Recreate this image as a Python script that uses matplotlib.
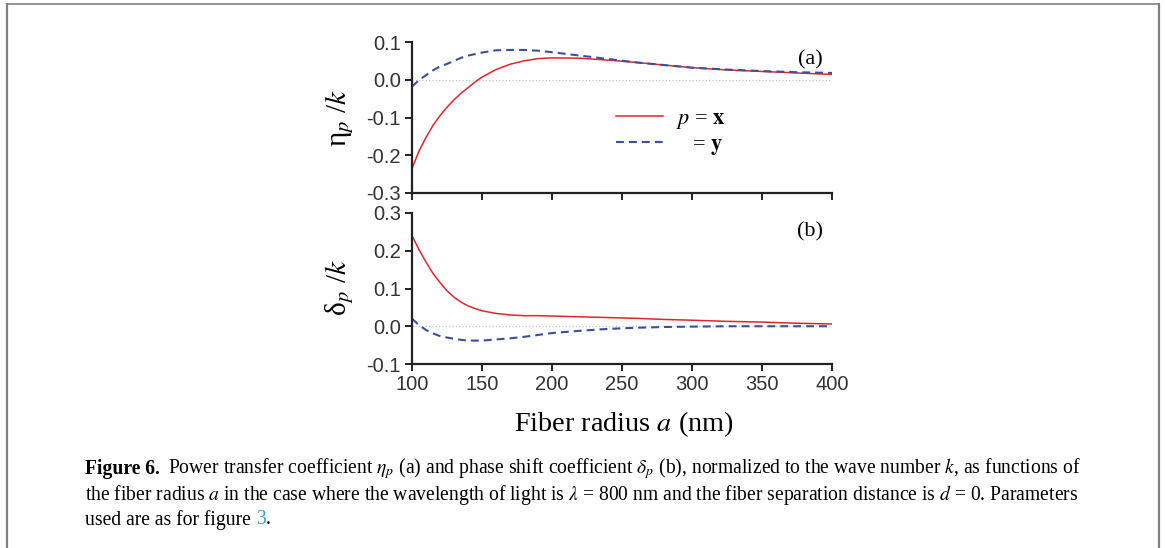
import matplotlib
matplotlib.use('Agg')
import matplotlib.pyplot as plt
from matplotlib.lines import Line2D
import numpy as np

plt.rcParams['mathtext.fontset'] = 'stix'

# fiber radius a (nm)
radius = [100, 105, 110, 115, 120, 125, 130, 135, 140, 145, 150, 160, 170,
          180, 190, 200, 220, 240, 260, 280, 300, 325, 350, 375, 400]

# eta_p / k
eta_x = [-0.235, -0.189, -0.153, -0.121, -0.095, -0.073, -0.053, -0.036,
         -0.021, -0.006, 0.007, 0.027, 0.041, 0.050, 0.056, 0.058, 0.057,
         0.052, 0.046, 0.039, 0.032, 0.026, 0.022, 0.018, 0.014]
eta_y = [-0.018, -0.001, 0.012, 0.025, 0.035, 0.042, 0.050, 0.058, 0.064,
         0.068, 0.072, 0.078, 0.079, 0.079, 0.077, 0.073, 0.064, 0.055, 0.046,
         0.039, 0.032, 0.027, 0.023, 0.020, 0.018]

# delta_p / k
delta_x = [0.240, 0.203, 0.170, 0.140, 0.116, 0.094, 0.077, 0.064, 0.054,
           0.047, 0.041, 0.034, 0.030, 0.028, 0.028, 0.027, 0.025, 0.023,
           0.021, 0.018, 0.016, 0.013, 0.011, 0.008, 0.006]
delta_y = [0.020, 0.003, -0.010, -0.019, -0.026, -0.030, -0.033, -0.036,
           -0.038, -0.038, -0.038, -0.035, -0.032, -0.028, -0.023, -0.018,
           -0.012, -0.007, -0.004, -0.002, -0.001, 0.000, 0.000, 0.000, 0.000]

xticks = [100, 150, 200, 250, 300, 350, 400]
yticks_a = [-0.3, -0.2, -0.1, 0.0, 0.1]
yticks_b = [-0.1, 0.0, 0.1, 0.2, 0.3]

RED = '#e0262b'
BLUE = '#3a4fa3'
SERIF = 'Liberation Serif'
SANS = 'Liberation Sans'

fig = plt.figure(figsize=(11.65, 5.48), dpi=100)

W, H = 1165.0, 548.0
ax_a = fig.add_axes([412 / W, 1 - 193 / H, 420 / W, 151 / H])
ax_b = fig.add_axes([412 / W, 1 - 364 / H, 420 / W, 151 / H])


def style(ax, yticks, ylim, labels):
    for s in ['top', 'right']:
        ax.spines[s].set_visible(False)
    for s in ['left', 'bottom']:
        ax.spines[s].set_linewidth(1.6)
        ax.spines[s].set_color('#222222')
    ax.set_xlim(100, 400)
    ax.set_ylim(*ylim)
    ax.set_xticks(xticks)
    ax.set_yticks(yticks)
    ax.set_yticklabels(['%.1f' % v for v in yticks])
    ax.tick_params(direction='out', length=5, width=1.4, color='#222222',
                   labelsize=14.5, labelcolor='#333333', pad=3)
    for lab in ax.get_xticklabels() + ax.get_yticklabels():
        lab.set_family(SANS)
    if not labels:
        ax.set_xticklabels([])
    ax.axhline(0, color='#bbbbbb', lw=0.8, ls=(0, (1, 2)), zorder=0)


dash = (0, (3.8, 2.4))
ax_a.plot(radius, eta_x, color=RED, lw=1.1, label=r'$p$ = $\mathbf{x}$')
ax_a.plot(radius, eta_y, color=BLUE, lw=1.5, ls=dash,
          label=r'$\ \ \ $= $\mathbf{y}$')
style(ax_a, yticks_a, (-0.3, 0.1), False)

ax_b.plot(radius, delta_x, color=RED, lw=1.1)
ax_b.plot(radius, delta_y, color=BLUE, lw=1.5, ls=dash)
style(ax_b, yticks_b, (-0.1, 0.3), True)

leg = ax_a.legend(loc='center left', bbox_to_anchor=(0.486, 0.40),
                  frameon=False, handlelength=2.1, handletextpad=0.6,
                  labelspacing=0.15, borderpad=0, borderaxespad=0,
                  prop={'family': SERIF, 'size': 16})

ax_a.text(0.978, 0.88, '(a)', transform=ax_a.transAxes, ha='right',
          va='center', family=SERIF, fontsize=16)
ax_b.text(0.978, 0.875, '(b)', transform=ax_b.transAxes, ha='right',
          va='center', family=SERIF, fontsize=16)

fig.text(340 / W, 1 - 118 / H, 'η$_p$ /$k$', rotation=90, ha='center',
         va='center', family=SERIF, fontsize=21)
fig.text(340 / W, 1 - 288 / H, 'δ$_p$ /$k$', rotation=90, ha='center',
         va='center', family=SERIF, fontsize=21)

fig.text(624 / W, 1 - 424 / H, 'Fiber radius $a$ (nm)', ha='center',
         va='center', family=SERIF, fontsize=20.3)

# frame around figure panel
frame_c = '#808080'
fig.add_artist(Line2D([7 / W, 7 / W], [0, 1 - 4 / H], color=frame_c, lw=1.6))
fig.add_artist(Line2D([7 / W, 1159 / W], [1 - 4 / H, 1 - 4 / H], color=frame_c, lw=1.2))
fig.add_artist(Line2D([1159 / W, 1159 / W], [0, 1 - 4 / H], color=frame_c, lw=1.6))

# caption
cap_size = 14.1
renderer = fig.canvas.get_renderer()
x0 = 85 / W
t = fig.text(x0, 1 - 469 / H, 'Figure 6.', ha='left', va='center',
             family=SERIF, fontsize=cap_size, weight='bold')
bb = t.get_window_extent(renderer)
fig.text(bb.x1 / W + 8 / W, 1 - 469 / H,
         r'Power transfer coefficient $\eta_p$ (a) and phase shift coefficient '
         r'$\delta_p$ (b), normalized to the wave number $k$, as functions of',
         ha='left', va='center', family=SERIF, fontsize=cap_size)
fig.text(x0, 1 - 495 / H,
         r'the fiber radius $a$ in the case where the wavelength of light is '
         r'$\lambda$ = 800 nm and the fiber separation distance is $d$ = 0. Parameters',
         ha='left', va='center', family=SERIF, fontsize=cap_size)
t3 = fig.text(x0, 1 - 520 / H, 'used are as for figure ', ha='left',
              va='center', family=SERIF, fontsize=cap_size)
bb3 = t3.get_window_extent(renderer)
t4 = fig.text(bb3.x1 / W, 1 - 520 / H, '3', ha='left', va='center',
              family=SERIF, fontsize=cap_size, color='#2a9fd8')
bb4 = t4.get_window_extent(renderer)
fig.text(bb4.x1 / W, 1 - 520 / H, '.', ha='left', va='center',
         family=SERIF, fontsize=cap_size)

fig.savefig('out.png', dpi=100)
